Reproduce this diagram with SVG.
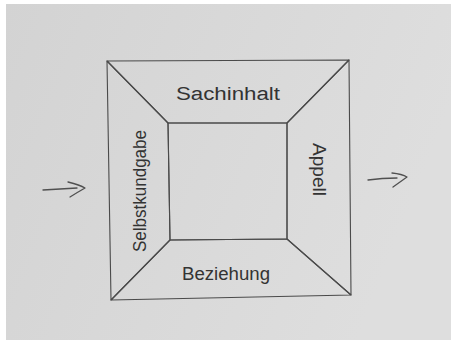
<svg xmlns="http://www.w3.org/2000/svg" width="451" height="342" viewBox="0 0 451 342">
  <style>
    .edge { fill: none; stroke: #4a4a4a; stroke-width: 1.1; stroke-linejoin: round; stroke-linecap: round; }
    .lbl { font-family: "Liberation Sans", "DejaVu Sans", sans-serif; font-size: 18px; fill: #333333; }
    .arrow { fill: none; stroke: #505050; stroke-width: 1.3; stroke-linecap: round; stroke-linejoin: round; }
  </style>
  <defs>
    <linearGradient id="paper" x1="0" y1="0" x2="1" y2="0.3">
      <stop offset="0" stop-color="#d3d3d3"/>
      <stop offset="1" stop-color="#dedede"/>
    </linearGradient>
  </defs>
  <rect x="0" y="0" width="451" height="342" fill="#ffffff"/>
  <rect x="6" y="4" width="445" height="336" fill="url(#paper)"/>

  <g id="sachinhalt">
    <polygon class="edge" points="107,61 349,60 287,123 168,123"/>
    <text class="lbl" x="176" y="100" textLength="104" lengthAdjust="spacingAndGlyphs">Sachinhalt</text>
  </g>
  <g id="appell">
    <polygon class="edge" points="349,60 351,295 287,239 287,123"/>
    <text class="lbl" transform="translate(313,143) rotate(90)" x="0" y="0" textLength="53" lengthAdjust="spacingAndGlyphs">Appell</text>
  </g>
  <g id="beziehung">
    <polygon class="edge" points="170,240 287,239 351,295 111,300"/>
    <text class="lbl" x="182" y="280" textLength="88" lengthAdjust="spacingAndGlyphs">Beziehung</text>
  </g>
  <g id="selbstkundgabe">
    <polygon class="edge" points="107,61 168,123 170,240 111,300"/>
    <text class="lbl" transform="translate(146,252) rotate(-90)" x="0" y="0" textLength="122" lengthAdjust="spacingAndGlyphs">Selbstkundgabe</text>
  </g>
  <g id="center">
    <polygon class="edge" points="168,123 287,123 287,239 170,240"/>
  </g>

  <g id="connectors">
    <path class="arrow" d="M43,190 L77,188 M68,182 Q80,185 85,188 Q78,192 70,197"/>
    <path class="arrow" d="M368,180 Q382,178 397,178 M392,173 Q402,174 407,177 Q400,182 393,187"/>
  </g>
</svg>
